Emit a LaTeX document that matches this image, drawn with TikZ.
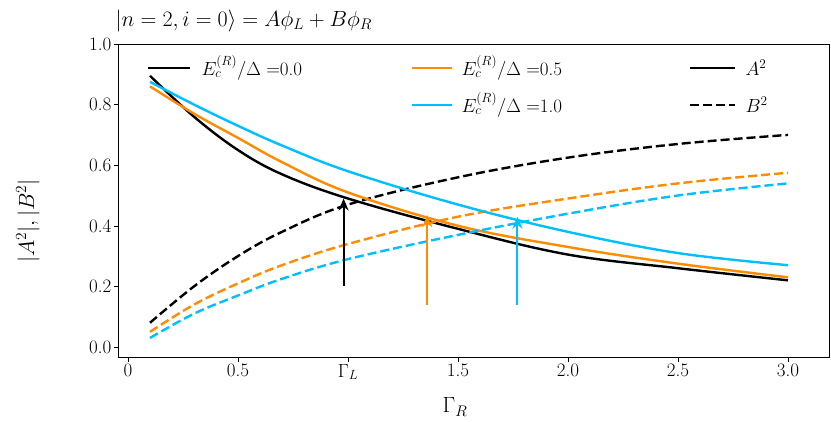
\RequirePackage{fix-cm}
\documentclass[tikz,border=0pt]{standalone}
\usepackage{amsmath}
\usetikzlibrary{arrows.meta}
\definecolor{org}{RGB}{255,140,0}
\definecolor{sky}{RGB}{0,191,255}
\begin{document}
\begin{tikzpicture}[x=1pt,y=1pt,
  cur/.style={line width=2.4pt,smooth,tension=0.6},
  das/.style={line width=2.4pt,smooth,tension=0.6,dash pattern=on 9pt off 4pt},
  arr/.style={line width=2pt,-{Stealth[length=12pt,width=10pt]}},
  tick/.style={font=\fontsize{19}{19}\selectfont}]
\useasboundingbox (0,0) rectangle (831,421);
\begin{scope}[shift={(128,74)},x=220pt,y=303pt]
\draw[line width=0.8pt] (-0.045,-0.033) rectangle (3.19,1.0);
\foreach \x/\l in {0/0,0.5/0.5,1.5/1.5,2.0/2.0,2.5/2.5,3.0/3.0}
  {\draw (\x,-0.033) -- (\x,-0.048); \node[tick,anchor=north] (tx\l) at (\x,-0.045) {\l};}
\draw (1,-0.033) -- (1,-0.048); \node[tick,anchor=north] (tgl) at (1,-0.045) {$\Gamma_L$};
\foreach \y in {0.0,0.2,0.4,0.6,0.8,1.0}
  {\draw (-0.045,\y) -- (-0.065,\y); \node[tick,anchor=east] (ty\y) at (-0.06,\y) {\y};}
\draw[cur,black] plot coordinates {(0.1,0.895)(0.3,0.76)(0.5,0.65)(0.7,0.57)(1.0,0.49)(1.5,0.39)(2.0,0.305)(2.5,0.26)(3.0,0.22)};
\draw[das,black] plot coordinates {(0.1,0.08)(0.3,0.20)(0.5,0.30)(0.7,0.38)(1.0,0.47)(1.5,0.56)(2.0,0.625)(2.5,0.67)(3.0,0.70)};
\draw[cur,org] plot coordinates {(0.1,0.86)(0.3,0.77)(0.5,0.69)(0.7,0.61)(1.0,0.51)(1.5,0.40)(2.0,0.33)(2.5,0.275)(3.0,0.23)};
\draw[das,org] plot coordinates {(0.1,0.05)(0.3,0.14)(0.5,0.21)(0.7,0.27)(1.0,0.34)(1.5,0.43)(2.0,0.49)(2.5,0.54)(3.0,0.575)};
\draw[cur,sky] plot coordinates {(0.1,0.875)(0.3,0.80)(0.5,0.73)(0.7,0.665)(1.0,0.58)(1.5,0.47)(2.0,0.38)(2.5,0.31)(3.0,0.27)};
\draw[das,sky] plot coordinates {(0.1,0.03)(0.3,0.11)(0.5,0.17)(0.7,0.225)(1.0,0.29)(1.5,0.37)(2.0,0.44)(2.5,0.50)(3.0,0.54)};
\coordinate (a1) at (0.98,0.2); \coordinate (b1) at (0.98,0.49);
\coordinate (a2) at (1.36,0.14); \coordinate (b2) at (1.36,0.435);
\coordinate (a3) at (1.77,0.14); \coordinate (b3) at (1.77,0.43);
\draw[arr,black] (a1) -- (b1);
\draw[arr,org] (a2) -- (b2);
\draw[arr,sky] (a3) -- (b3);
\end{scope}
% legend
\begin{scope}[font=\fontsize{19}{19}\selectfont]
\coordinate (l1a) at (148,353); \coordinate (l1b) at (190,353);
\draw[line width=2.4pt] (l1a) -- (l1b);
\node[anchor=west] (t1) at (198,353) {$E_c^{(R)}/\Delta =$0.0};
\coordinate (l2a) at (412,353); \coordinate (l2b) at (452,353);
\draw[line width=2.4pt,org] (l2a) -- (l2b);
\node[anchor=west] (t2) at (458,353) {$E_c^{(R)}/\Delta =$0.5};
\coordinate (l3a) at (412,316); \coordinate (l3b) at (452,316);
\draw[line width=2.4pt,sky] (l3a) -- (l3b);
\node[anchor=west] (t3) at (458,316) {$E_c^{(R)}/\Delta =$1.0};
\coordinate (l4a) at (690,353); \coordinate (l4b) at (735,353);
\draw[line width=2.4pt] (l4a) -- (l4b);
\node[anchor=west] (t4) at (742,353) {$A^2$};
\coordinate (l5a) at (690,316); \coordinate (l5b) at (735,316);
\draw[line width=2.4pt,dash pattern=on 9pt off 4pt] (l5a) -- (l5b);
\node[anchor=west] (t5) at (742,316) {$B^2$};
\end{scope}
\node[font=\fontsize{22}{22}\selectfont,anchor=west] (title) at (112,400) {$|n=2,i=0\rangle = A\phi_L + B\phi_R$};
\node[font=\fontsize{22}{22}\selectfont,rotate=90] (yl) at (28,200) {$|A^2|,|B^2|$};
\node[font=\fontsize{22}{22}\selectfont] (xl) at (455,14) {$\Gamma_R$};
\end{tikzpicture}
\end{document}
